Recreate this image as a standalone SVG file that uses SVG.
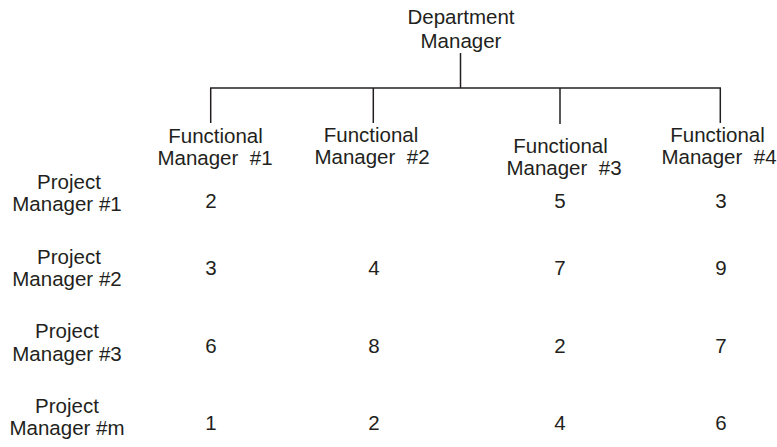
<svg xmlns="http://www.w3.org/2000/svg" width="777" height="447" viewBox="0 0 777 447">
  <style>
    text { font-family: "Liberation Sans", Arial, sans-serif; fill: #231f20; text-anchor: middle; }
    .lbl { font-size: 20.5px; }
    .num { font-size: 20.5px; }
    .conn line { stroke: #231f20; stroke-width: 1.5; fill: none; }
  </style>

  <!-- Hierarchy connectors -->
  <g id="connectors" class="conn">
    <line x1="460.5" y1="53" x2="460.5" y2="88"/>
    <line x1="210" y1="88" x2="721" y2="88"/>
    <line x1="210.7" y1="88" x2="210.7" y2="123"/>
    <line x1="373.3" y1="88" x2="373.3" y2="123"/>
    <line x1="560" y1="88" x2="560" y2="124"/>
    <line x1="720.3" y1="88" x2="720.3" y2="123"/>
  </g>

  <g id="dept-manager">
    <text class="lbl" x="461" y="24">Department</text>
    <text class="lbl" x="461" y="48">Manager</text>
  </g>

  <g id="fm1">
    <text class="lbl" x="215.5" y="143">Functional</text>
    <text class="lbl" x="215" y="165" xml:space="preserve">Manager  #1</text>
  </g>
  <g id="fm2">
    <text class="lbl" x="371" y="141.5">Functional</text>
    <text class="lbl" x="372" y="163.5" xml:space="preserve">Manager  #2</text>
  </g>
  <g id="fm3">
    <text class="lbl" x="560.5" y="153">Functional</text>
    <text class="lbl" x="564" y="175" xml:space="preserve">Manager  #3</text>
  </g>
  <g id="fm4">
    <text class="lbl" x="717.5" y="142">Functional</text>
    <text class="lbl" x="719" y="164" xml:space="preserve">Manager  #4</text>
  </g>

  <g id="pm1">
    <text class="lbl" x="69" y="189">Project</text>
    <text class="lbl" x="67" y="211">Manager #1</text>
  </g>
  <g id="pm2">
    <text class="lbl" x="69" y="264">Project</text>
    <text class="lbl" x="67" y="286">Manager #2</text>
  </g>
  <g id="pm3">
    <text class="lbl" x="67" y="338">Project</text>
    <text class="lbl" x="67" y="361">Manager #3</text>
  </g>
  <g id="pmm">
    <text class="lbl" x="67" y="413">Project</text>
    <text class="lbl" x="67" y="435">Manager #m</text>
  </g>

  <!-- Assignment counts -->
  <g id="counts" class="num">
    <text x="211" y="208">2</text>
    <text x="560" y="208">5</text>
    <text x="721" y="208">3</text>

    <text x="211" y="275">3</text>
    <text x="374" y="275">4</text>
    <text x="560" y="275">7</text>
    <text x="721" y="275">9</text>

    <text x="211" y="353">6</text>
    <text x="374" y="353">8</text>
    <text x="560" y="353">2</text>
    <text x="721" y="353">7</text>

    <text x="211" y="430">1</text>
    <text x="374" y="430">2</text>
    <text x="560" y="430">4</text>
    <text x="721" y="430">6</text>
  </g>
</svg>
